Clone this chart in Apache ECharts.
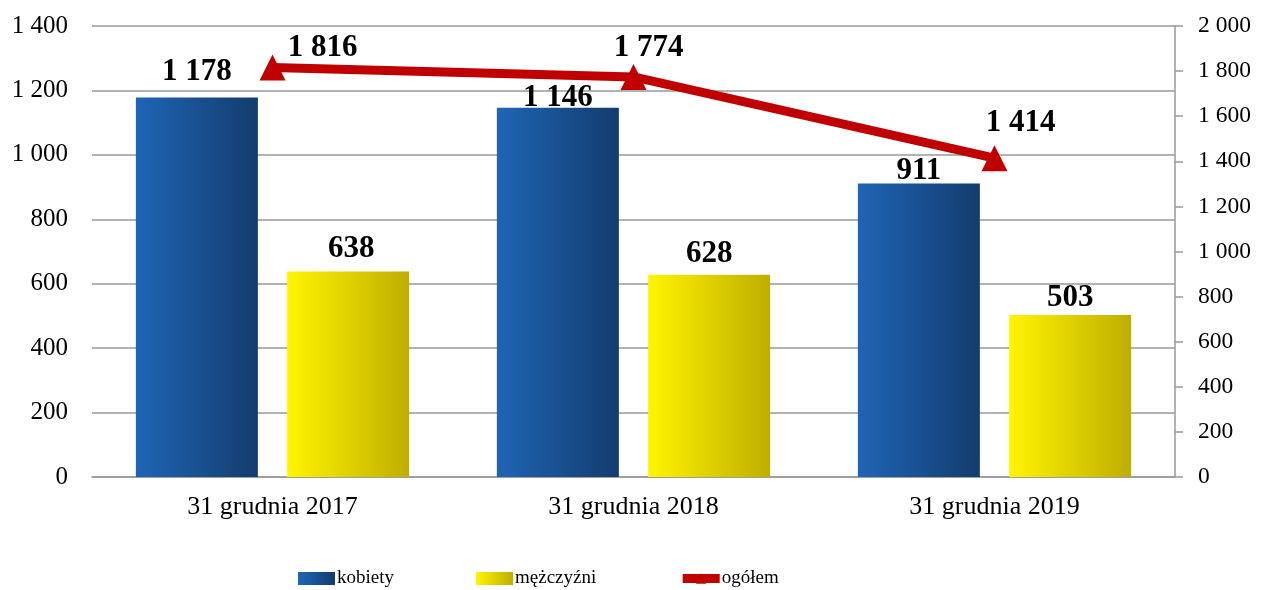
<!DOCTYPE html>
<html>
<head>
<meta charset="utf-8">
<script src="https://cdn.jsdelivr.net/npm/echarts@6/dist/echarts.min.js"></script>
<style>
  html, body { margin: 0; padding: 0; background: #fff; }
  #chart { width: 1261px; height: 590px; }
</style>
</head>
<body>
<div id="chart"></div>
<script>
// Categories and series values
const categories = ['31 grudnia 2017', '31 grudnia 2018', '31 grudnia 2019'];
const kobiety = [1178, 1146, 911];
const mezczyzni = [638, 628, 503];
const ogolem = [1816, 1774, 1414];

// Label offsets per data point (fine placement of value labels)
const kobietyLabelOffsets = [[0, 0], [0, 16], [0, 13]];
const mezczyzniLabelOffsets = [[3, 3], [0, 5], [0, 9]];
const ogolemLabelOffsets = [[50, 17], [15, 8], [26, 1]];

const fmt = v => String(v).replace(/\B(?=(\d{3})+(?!\d))/g, ' ');
const serif = '"Liberation Serif", "Times New Roman", serif';

const blueGrad = new echarts.graphic.LinearGradient(0, 0, 1, 0, [
  { offset: 0, color: '#1F65B5' },
  { offset: 1, color: '#133C6E' }
]);
const yellowGrad = new echarts.graphic.LinearGradient(0, 0, 1, 0, [
  { offset: 0, color: '#FFF500' },
  { offset: 1, color: '#BEAE00' }
]);

const valueLabel = {
  show: true,
  position: 'top',
  distance: 10,
  fontFamily: serif,
  fontWeight: 'bold',
  fontSize: 31,
  color: '#000',
  formatter: p => fmt(p.value)
};

const chart = echarts.init(document.getElementById('chart'));
chart.setOption({
  animation: false,
  backgroundColor: '#fff',
  grid: { left: 92, right: 86, top: 26, bottom: 113 },
  legend: {
    top: 569,
    left: 298,
    padding: 0,
    itemWidth: 37,
    itemHeight: 13,
    itemGap: 82,
    textStyle: { fontFamily: serif, fontSize: 19, color: '#000', padding: [0, 0, 0, -3] },
    data: [
      { name: 'kobiety', icon: 'rect' },
      { name: 'mężczyźni', icon: 'rect' },
      { name: 'ogółem', lineStyle: { width: 9, color: '#C00000' } }
    ]
  },
  xAxis: {
    type: 'category',
    data: categories,
    axisLine: { show: true, lineStyle: { color: '#999', width: 1.5 } },
    axisTick: { show: false },
    axisLabel: { fontFamily: serif, fontSize: 26, color: '#000', margin: 17 }
  },
  yAxis: [
    {
      type: 'value',
      min: 0, max: 1400, interval: 200,
      axisLine: { show: false },
      axisTick: { show: false },
      splitLine: { lineStyle: { color: '#999', width: 1.5 } },
      axisLabel: { fontFamily: serif, fontSize: 25, color: '#000', margin: 24, formatter: fmt }
    },
    {
      type: 'value',
      position: 'right',
      min: 0, max: 2000, interval: 200,
      axisLine: { show: true, lineStyle: { color: '#999', width: 1.5 } },
      axisTick: { show: true, length: 8, lineStyle: { color: '#999', width: 1.5 } },
      splitLine: { show: false },
      axisLabel: { fontFamily: serif, fontSize: 23.5, color: '#000', margin: 23, formatter: fmt }
    }
  ],
  series: [
    {
      name: 'kobiety',
      type: 'bar',
      yAxisIndex: 0,
      barWidth: 122,
      barGap: '24%',
      itemStyle: { color: blueGrad },
      data: kobiety.map((v, i) => ({ value: v, label: { offset: kobietyLabelOffsets[i] } })),
      label: valueLabel
    },
    {
      name: 'mężczyźni',
      type: 'bar',
      yAxisIndex: 0,
      barWidth: 122,
      barGap: '24%',
      itemStyle: { color: yellowGrad },
      data: mezczyzni.map((v, i) => ({ value: v, label: { offset: mezczyzniLabelOffsets[i] } })),
      label: valueLabel
    },
    {
      name: 'ogółem',
      type: 'line',
      yAxisIndex: 1,
      symbol: 'triangle',
      symbolSize: [26, 26],
      lineStyle: { color: '#C00000', width: 9 },
      itemStyle: { color: '#C00000' },
      data: ogolem.map((v, i) => ({ value: v, label: { offset: ogolemLabelOffsets[i] } })),
      label: Object.assign({}, valueLabel, { distance: 8 }),
      z: 5
    }
  ]
});
</script>
</body>
</html>
